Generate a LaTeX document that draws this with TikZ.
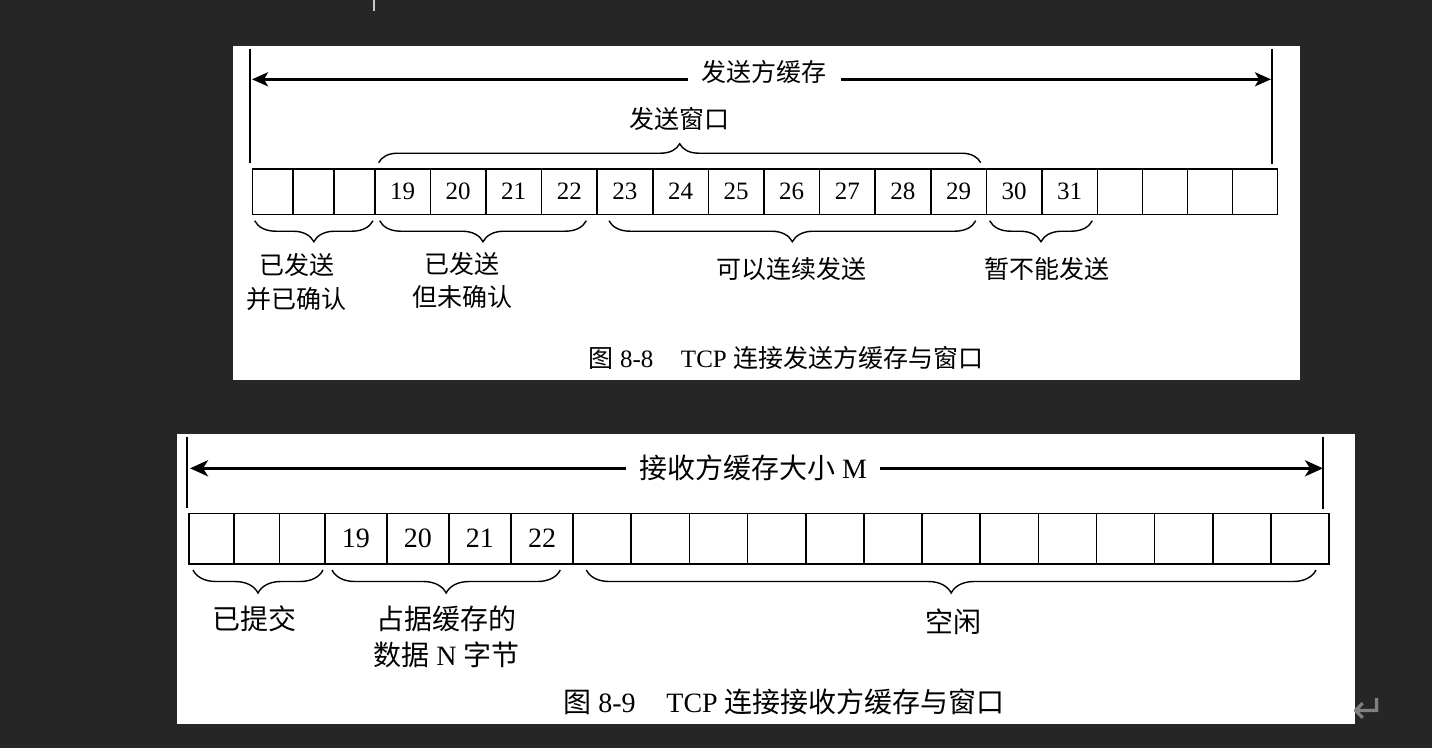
\documentclass[tikz,border=0pt]{standalone}
\usepackage{fontspec}
\setmainfont{Liberation Serif}
\newfontfamily\cjk{Noto Sans CJK SC}
\newfontfamily\symfont{DejaVu Sans}
\usetikzlibrary{arrows.meta,decorations.pathreplacing}
\definecolor{bgdark}{RGB}{38,38,38}
\definecolor{cursorgray}{RGB}{200,200,200}
\definecolor{retgray}{RGB}{128,128,128}
\begin{document}
\begin{tikzpicture}[x=1pt,y=-1pt,
  cellbox/.style={draw=black,line width=1.6pt},
  numcell/.style={draw=black,line width=1.6pt,inner sep=0pt,outer sep=0pt},
  topfont/.style={font=\fontsize{25}{33.5}\selectfont},
  botfont/.style={font=\fontsize{28}{36.7}\selectfont},
  bar/.style={line width=2pt},
  toparrow/.style={line width=2.6pt,{Stealth[length=16pt,width=14pt,inset=4pt]}-{Stealth[length=16pt,width=14pt,inset=4pt]}},
  botarrow/.style={line width=3pt,{Stealth[length=18pt,width=16pt,inset=5pt]}-{Stealth[length=18pt,width=16pt,inset=5pt]}},
  braceup/.style={decorate,decoration={brace,amplitude=19pt},line width=1.4pt},
  bracedn/.style={decorate,decoration={brace,mirror,amplitude=21pt},line width=1.4pt},
  bracednb/.style={decorate,decoration={brace,mirror,amplitude=23pt},line width=1.4pt},
  lbl/.style={inner sep=0pt,align=center}]
\fill[bgdark] (0,0) rectangle (1432,748);
\useasboundingbox (0,0) rectangle (1432,748);
% editor cursor
\draw[cursorgray,line width=1.5pt] (374,0) -- (374,10.5);
% panels
\fill[white] (233,46) rectangle (1300,380);
\fill[white] (177,434) rectangle (1355,724.3);

%================ top figure =================
\draw[bar] (250.3,48.7) -- (250.3,163.3);
\draw[bar] (1271.7,48.7) -- (1271.7,164);
\coordinate (tl) at (252,79.3);
\coordinate (tr) at (1271,79.3);
\draw[toparrow] (tl) -- (tr);
\node[lbl,fill=white,inner xsep=14pt,inner ysep=3pt,topfont] (sbuf) at (764,72) {\cjk 发送方缓存};

\foreach \a/\b in {252.3/293,293/333.7,333.7/374.7,1097.6/1142.5,1142.5/1187.5,1187.5/1232.4,1232.4/1277.3}
  \draw[cellbox] (\a,168.7) rectangle (\b,214.3);
\foreach \n in {19,...,31}
  \node[numcell,minimum width=55.6pt,minimum height=45.6pt,topfont] (t\n) at ({374.7+(\n-19)*55.6+27.8},191.5) {\n};

\coordinate (w1) at (378.7,162.7);
\coordinate (w2) at (980.7,162.7);
\draw[braceup] (w1) -- (w2);
\node[lbl,topfont] (swin) at (679,119.3) {\cjk 发送窗口};

\coordinate (a1) at (254.7,220.7);
\coordinate (a2) at (373,220.7);
\draw[bracedn] (a1) -- (a2);
\coordinate (b1) at (379.7,220.7);
\coordinate (b2) at (586.3,220.7);
\draw[bracedn] (b1) -- (b2);
\coordinate (c1) at (609,220.7);
\coordinate (c2) at (975.7,220.7);
\draw[bracedn] (c1) -- (c2);
\coordinate (d1) at (989.7,220.7);
\coordinate (d2) at (1092.3,220.7);
\draw[bracedn] (d1) -- (d2);

\node[lbl,topfont] (acked) at (296.5,281.8) {\cjk 已发送\\\cjk 并已确认};
\node[lbl,topfont] (unacked) at (462,280.5) {\cjk 已发送\\\cjk 但未确认};
\node[lbl,topfont] (cansend) at (791.5,269) {\cjk 可以连续发送};
\node[lbl,topfont] (nosend) at (1046.5,269) {\cjk 暂不能发送};
\node[lbl,topfont] (cap1) at (786,357.5) {{\cjk 图} 8-8\hspace{1.1em}TCP {\cjk 连接发送方缓存与窗口}};

%================ bottom figure =================
\draw[bar] (187,437) -- (187,508);
\draw[bar] (1323.3,436.7) -- (1323.3,509);
\coordinate (bl) at (190,468.3);
\coordinate (br) at (1323,468.3);
\draw[botarrow] (bl) -- (br);
\node[lbl,fill=white,inner xsep=13pt,inner ysep=3pt,botfont] (rbuf) at (753,468.3) {{\cjk 接收方缓存大小} M};

\foreach \a/\b in {188.7/234,234/279.3,279.3/324.7}
  \draw[cellbox] (\a,513.3) rectangle (\b,564);
\foreach \k in {0,...,12}
  \draw[cellbox] ({573.1+\k*58.15},513.3) rectangle ({573.1+(\k+1)*58.15},564);
\foreach \n in {19,...,22}
  \node[numcell,minimum width=62.1pt,minimum height=50.7pt,botfont] (b\n) at ({324.7+(\n-19)*62.1+31.05},538.65) {\n};

\coordinate (e1) at (193,570);
\coordinate (e2) at (323,570);
\draw[bracednb] (e1) -- (e2);
\coordinate (f1) at (332,570);
\coordinate (f2) at (560.3,570);
\draw[bracednb] (f1) -- (f2);
\coordinate (g1) at (586.3,570);
\coordinate (g2) at (1316,570);
\draw[bracednb] (g1) -- (g2);

\node[lbl,botfont] (commit) at (254.5,619) {\cjk 已提交};
\node[lbl,botfont] (occupied) at (446.5,636.7) {\cjk 占据缓存的\\{\cjk 数据} N {\cjk 字节}};
\node[lbl,botfont] (free) at (953,622) {\cjk 空闲};
\node[lbl,botfont] (cap2) at (784,701.7) {{\cjk 图} 8-9\hspace{1.1em}TCP {\cjk 连接接收方缓存与窗口}};

% editor paragraph mark
\node[lbl,text=retgray,font=\symfont\fontsize{40}{44}\selectfont] (ret) at (1369,711) {↵};
\end{tikzpicture}
\end{document}
